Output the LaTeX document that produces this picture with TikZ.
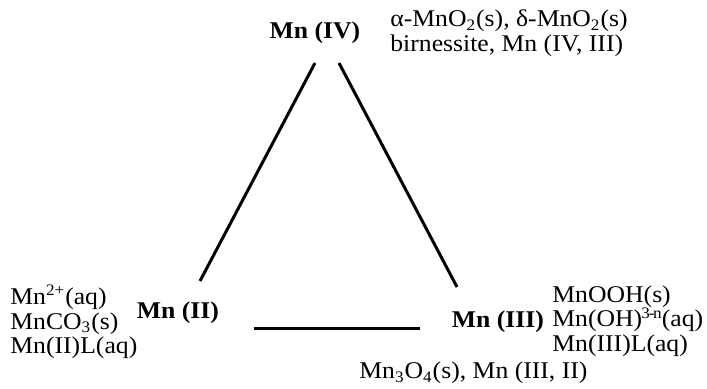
\documentclass[tikz,border=0pt]{standalone}
\usepackage{fontspec}
\setmainfont{Liberation Serif}[FakeStretch=1.07]
\usepackage{tikz}
\usetikzlibrary{positioning}

\begin{document}
\fontsize{12}{12.3}\selectfont
\begin{tikzpicture}[x=0.5pt,y=-0.5pt,
  ox/.style={font=\bfseries, inner sep=0pt},
  sp/.style={align=left, anchor=west, inner sep=0pt},
  edge/.style={line width=1.5pt}]
\useasboundingbox (0,0) rectangle (707,389);
\node[ox] (iv) at (315,33) {Mn (IV)};
\node[ox] (ii) at (178,313) {Mn (II)};
\node[ox] (iii) at (498,322) {Mn (III)};
\node[sp] (ivsp) at (390,33) {α-MnO\textsubscript{2}(s), δ-MnO\textsubscript{2}(s)\\birnessite, Mn (IV, III)};
\node[sp] (iisp) at (10,322) {Mn\textsuperscript{2+}(aq)\\MnCO\textsubscript{3}(s)\\Mn(II)L(aq)};
\node[sp] (iiisp) at (552,321) {MnOOH(s)\\Mn(OH)\textsuperscript{\kern-0.05em3\kern-0.08em-\kern-0.08em n\kern-0.05em}(aq)\\Mn(III)L(aq)};
\node[sp] (mix) at (359,373) {Mn\textsubscript{3}O\textsubscript{4}(s), Mn (III, II)};
\coordinate (l1) at (315,63);
\coordinate (l2) at (200,281);
\coordinate (r1) at (339,63);
\coordinate (r2) at (457,287);
\coordinate (b1) at (254,329);
\coordinate (b2) at (420,329);
\foreach \p/\q in {l1/l2,r1/r2,b1/b2} {
  \draw[edge] (\p) -- (\q);
}
\end{tikzpicture}
\end{document}
